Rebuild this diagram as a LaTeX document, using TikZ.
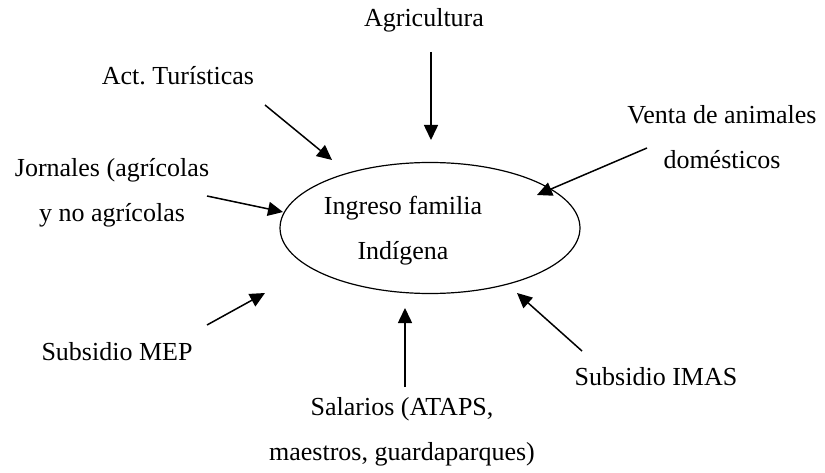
\documentclass[tikz,border=0pt]{standalone}
\usepackage{fontspec}
\setmainfont{Liberation Serif}
\usetikzlibrary{arrows.meta,shapes.geometric}
\frenchspacing
\tikzset{
  lbl/.style={anchor=base, inner sep=0pt, font=\fontsize{26}{45}\selectfont},
  flow/.style={line width=1.5pt, -{Triangle[length=15pt,width=14pt]}},
  hub/.style={draw, ellipse, line width=1.2pt, minimum width=292pt, minimum height=131pt, inner sep=0pt, font=\fontsize{26}{45}\selectfont}
}
\begin{document}
\begin{tikzpicture}[x=1pt,y=-1pt]
\useasboundingbox (0,0) rectangle (825,473);
\node[hub] (ing) at (430,228) {\begin{tabular}{@{}c@{\hspace{54pt}}}Ingreso familia\\Indígena\end{tabular}};

\node[lbl] (agr) at (424,27) {Agricultura};
\node[lbl] (act) at (178,85) {Act. Turísticas};
\node[lbl] (jor) at (112,177) {\begin{tabular}[t]{@{}c@{}}Jornales (agrícolas\\y no agrícolas\end{tabular}};
\node[lbl] (ven) at (722,124) {\begin{tabular}[t]{@{}c@{}}Venta de animales\\domésticos\end{tabular}};
\node[lbl] (mep) at (117,360) {Subsidio MEP};
\node[lbl] (imas) at (656,385) {Subsidio IMAS};
\node[lbl] (sal) at (402,415) {\begin{tabular}[t]{@{}c@{}}Salarios (ATAPS,\\maestros, guardaparques)\end{tabular}};

\coordinate (agrS) at (431,52);  \coordinate (agrT) at (431,140);
\coordinate (actS) at (265,105); \coordinate (actT) at (332,160);
\coordinate (jorS) at (207,196); \coordinate (jorT) at (283,212);
\coordinate (venS) at (647,148); \coordinate (venT) at (537,195);
\coordinate (mepS) at (207,325); \coordinate (mepT) at (265,293);
\coordinate (salS) at (405,387); \coordinate (salT) at (405,308);
\coordinate (imasS) at (582,351); \coordinate (imasT) at (517,293);

\draw[flow] (agrS) -- (agrT);
\draw[flow] (actS) -- (actT);
\draw[flow] (jorS) -- (jorT);
\draw[flow] (venS) -- (venT);
\draw[flow] (mepS) -- (mepT);
\draw[flow] (salS) -- (salT);
\draw[flow] (imasS) -- (imasT);
\end{tikzpicture}
\end{document}
